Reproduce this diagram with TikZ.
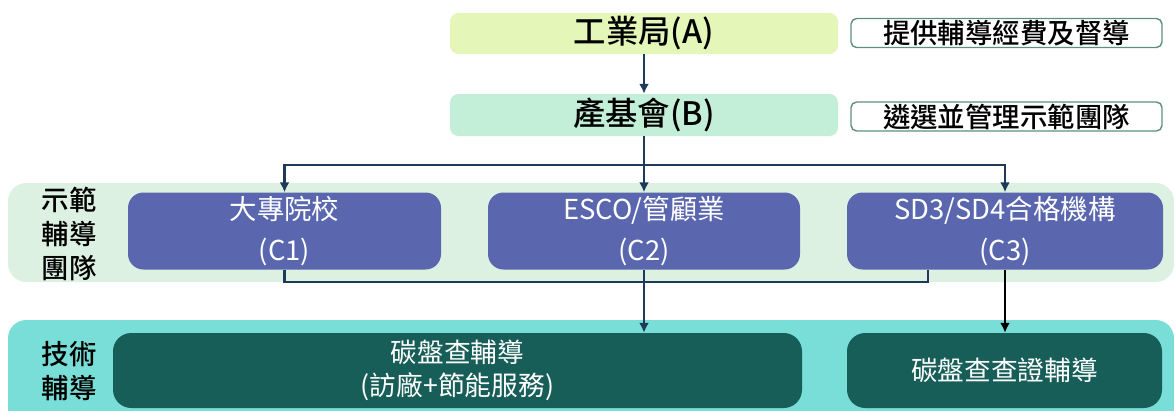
\documentclass[tikz,border=0pt]{standalone}
\usepackage{fontspec}
\setmainfont{Noto Sans CJK TC}
\newfontfamily\medfont{Noto Sans CJK TC Medium}
\usetikzlibrary{calc,arrows.meta}

\definecolor{lvA}{HTML}{E5F6B9}
\definecolor{lvB}{HTML}{C3EFD8}
\definecolor{bandC}{HTML}{DCF1E2}
\definecolor{bandD}{HTML}{78DED7}
\definecolor{teamC}{HTML}{5A66AE}
\definecolor{techD}{HTML}{175E59}
\definecolor{edgeN}{HTML}{1D3A5A}
\definecolor{noteG}{HTML}{5E8E80}

\begin{document}
\begin{tikzpicture}[x=0.025cm, y=-0.025cm,
	lvbox/.style={rounded corners=6pt, inner sep=0pt, align=center, minimum width=388*\px, font=\fontsize{23}{26}\selectfont\medfont},
	notebox/.style={draw=noteG, line width=1pt, rounded corners=4pt, inner sep=0pt, minimum width=311*\px, minimum height=29*\px, font=\fontsize{19.5}{22}\selectfont\medfont},
	teambox/.style={fill=teamC, rounded corners=11pt, inner sep=0pt, align=center, minimum height=77*\px, text=white, font=\fontsize{19.5}{29}\selectfont},
	techbox/.style={fill=techD, rounded corners=13pt, inner sep=0pt, align=center, minimum height=75*\px, text=white, font=\fontsize{19}{23.5}\selectfont},
	sidelabel/.style={inner sep=0pt, align=center, font=\fontsize{19.5}{24}\selectfont\medfont},
	link/.style={draw=edgeN, line width=1.8pt},
	>={Latex[length=7pt,width=7pt]}]

	\def\px{0.025cm}

	\useasboundingbox (0,0) rectangle (1174,410);

	% bands
	\fill[bandC, rounded corners=13pt] (8,183) rectangle (1174,282);
	\fill[bandD, rounded corners=13pt] (8,320) rectangle (1174,430);

	% levels
	\node[lvbox, fill=lvA, minimum height=41*\px] (A) at (644,33.5) {工業局(A)};
	\node[lvbox, fill=lvB, minimum height=42*\px] (B) at (644,115) {產基會(B)};

	\node[notebox] (noteA) at (1006.5,33) {提供輔導經費及督導};
	\node[notebox] (noteB) at (1006.5,116.5) {遴選並管理示範團隊};

	% team
	\node[sidelabel] (lblC) at (69,234) {示範\\輔導\\團隊};
	\node[teambox, minimum width=313*\px] (C1) at (284.5,231) {大專院校\\(C1)};
	\node[teambox, minimum width=312*\px] (C2) at (644,231) {ESCO/管顧業\\(C2)};
	\node[teambox, minimum width=316*\px] (C3) at (1005,231) {SD3/SD4合格機構\\(C3)};

	% tech
	\node[sidelabel] (lblD) at (69,371) {技術\\輔導};
	\node[techbox, minimum width=689*\px] (D1) at (457.5,370.5) {碳盤查輔導\\(訪廠+節能服務)};
	\node[techbox, minimum width=315*\px] (D2) at (1004.5,370.5) {碳盤查查證輔導};

	% connectors
	\coordinate (split) at (644,165);
	\coordinate (merge) at (644,282);
	\coordinate (C3out) at ($(C3.south)+(-77,0)$);

	\draw[link, ->] (A) -- (B);
	\draw[link] (B) -- (split);
	\draw[link, ->] (split) -| (C1.north);
	\draw[link, ->] (split) -- (C2.north);
	\draw[link, ->] (split) -| (C3.north);

	\draw[link] (C1.south) |- (merge);
	\draw[link] (C3out) |- (merge);
	\draw[link, ->] (C2.south) -- (C2.south |- D1.north);
	\draw[link, draw=black, ->] (C3.south) -- (C3.south |- D2.north);

\end{tikzpicture}
\end{document}
